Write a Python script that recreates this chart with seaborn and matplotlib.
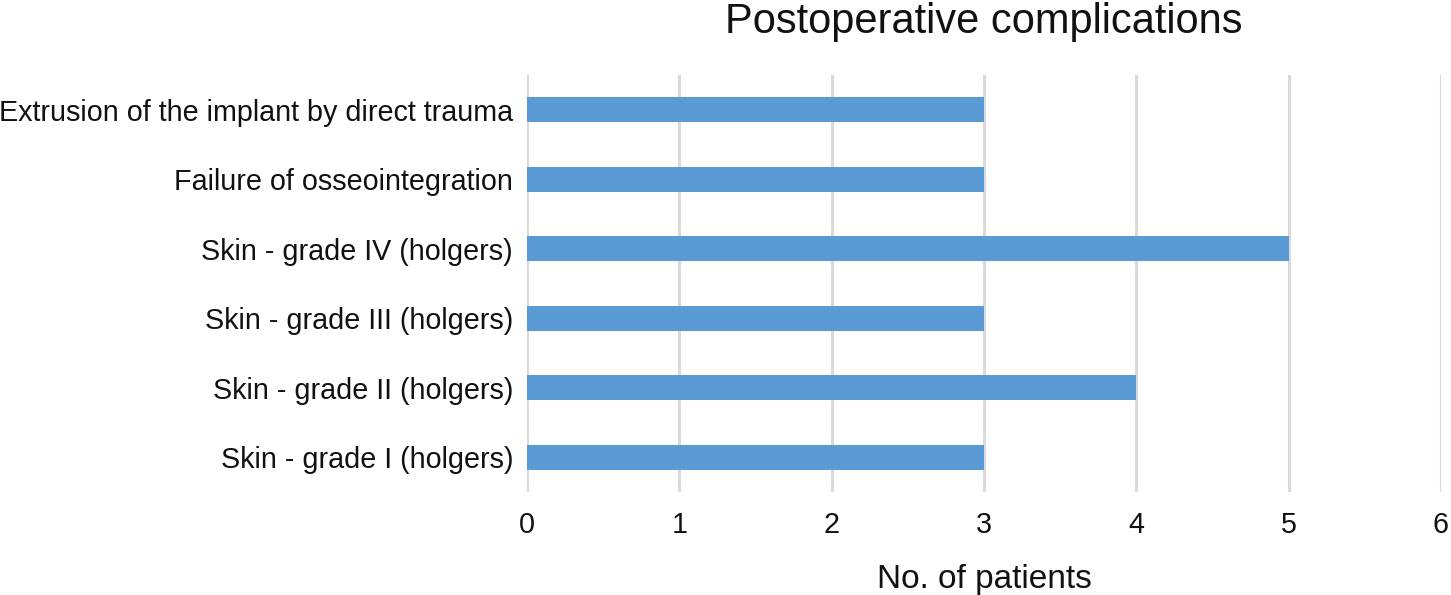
import matplotlib
matplotlib.use("Agg")
import matplotlib.pyplot as plt
import seaborn as sns
import pandas as pd

categories = [
    "Extrusion of the implant by direct trauma",
    "Failure of osseointegration",
    "Skin - grade IV (holgers)",
    "Skin - grade III (holgers)",
    "Skin - grade II (holgers)",
    "Skin - grade I (holgers)",
]
patients = [3, 3, 5, 3, 4, 3]
xticks = [0, 1, 2, 3, 4, 5, 6]

df = pd.DataFrame({"category": categories, "patients": patients})

sns.set_style("white")
plt.rcParams["font.family"] = ["Liberation Sans", "DejaVu Sans"]

fig = plt.figure(figsize=(14.51, 5.95), dpi=100)
ax = fig.add_axes([0.3632, 0.1731, 0.6299, 0.7009])

sns.barplot(data=df, x="patients", y="category", orient="h", color="#5b9bd5",
            width=0.36, saturation=1, linewidth=0, ax=ax, zorder=3)

ax.set_xlim(0, 6)
ax.set_ylim(5.5, -0.5)
ax.set_xticks(xticks)
ax.set_xticklabels([str(t) for t in xticks])
ax.grid(axis="x", color="#d9d9d9", linewidth=2.2, zorder=0)
ax.set_axisbelow(True)
for s in ax.spines.values():
    s.set_visible(False)
ax.tick_params(axis="both", length=0, labelsize=20.7, colors="#111111")
ax.tick_params(axis="y", pad=10)
ax.tick_params(axis="x", pad=14)
ax.set_ylabel("")
ax.set_xlabel("No. of patients", fontsize=24, labelpad=18, color="#111111")
ax.set_title("Postoperative complications", fontsize=30, pad=30, color="#111111")

fig.savefig("out.png", dpi=100)
